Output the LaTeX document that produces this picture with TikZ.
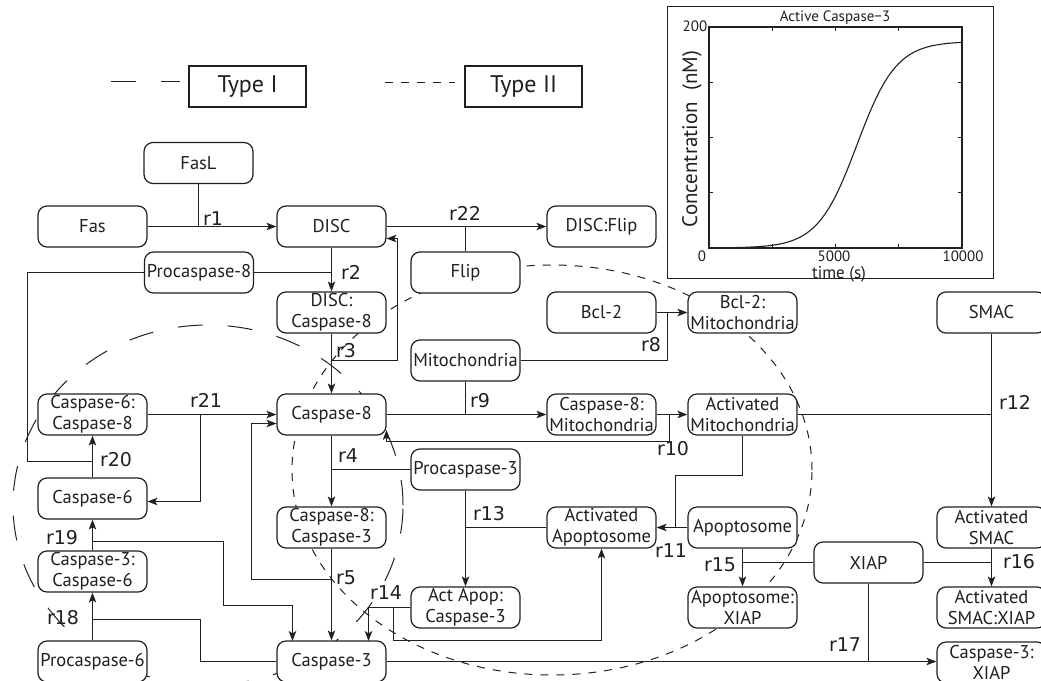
\documentclass[tikz,border=0pt]{standalone}
\usepackage{fontspec}
\setmainfont{PT Sans}
\newfontfamily\labfont{DejaVu Sans}
\usetikzlibrary{arrows.meta,calc}
\definecolor{ink}{RGB}{35,31,32}
\tikzset{
  box/.style={draw=ink, fill=white, line width=1.2pt, rounded corners=9pt,
    minimum width=109pt, minimum height=41pt, inner sep=0.5pt, align=center,
    text=ink, font=\fontsize{18.5}{21.5}\selectfont},
  conn/.style={draw=ink, line width=1.2pt},
  arr/.style={conn, -{Stealth[length=10pt,width=7.5pt,inset=2.5pt]}},
  rlab/.style={text=ink, inner sep=0pt, font=\labfont\fontsize{19}{22}\selectfont},
  legbox/.style={draw=ink, line width=1.3pt, minimum width=117pt, minimum height=41pt,
    inner sep=1pt, text=ink, font=\fontsize{24}{28}\selectfont},
  typeone/.style={draw=ink, line width=1pt, dash pattern=on 25pt off 25pt},
  typetwo/.style={draw=ink, line width=1pt, dash pattern=on 8pt off 8pt},
  plotfont/.style={text=ink, inner sep=0pt, font=\fontsize{15}{17}\selectfont}
}
\begin{document}
\begin{tikzpicture}[x=1pt,y=-1pt]
\useasboundingbox (0,0) rectangle (1041,680);
\clip (0,0) rectangle (1041,680);
\fill[white] (0,0) rectangle (1041,680);

% legend
\node[legbox] (leg1) at (247.5,86.5) {Type I};
\node[legbox] (leg2) at (523.5,86.5) {Type II};
\coordinate (l1a) at (111,81.5);
\coordinate (l1b) at (180,81.5);
\coordinate (l2a) at (385,82.5);
\coordinate (l2b) at (455,82.5);
\draw[typeone] (l1a) -- (l1b);
\draw[typetwo] (l2a) -- (l2b);

% pathway boundaries (behind the species boxes)
\draw[typeone] (208,505) ellipse [x radius=195pt, y radius=180pt];
\draw[typetwo] (552,470) ellipse [x radius=260pt, y radius=205pt];

% species
\node[box] (fasl) at (198.5,163) {FasL};
\node[box] (fas) at (92.5,226.5) {Fas};
\node[box] (disc) at (331.5,226.5) {DISC};
\node[box] (discflip) at (601.5,226.5) {DISC:Flip};
\node[box] (flip) at (465.5,272.5) {Flip};
\node[box] (pc8) at (199,272.5) {Procaspase-8};
\node[box] (disc8) at (331.5,312.5) {DISC:\\Caspase-8};
\node[box] (bcl2) at (601.5,312.5) {Bcl-2};
\node[box] (bclmit) at (742.5,312.5) {Bcl-2:\\Mitochondria};
\node[box] (smac) at (991.5,312.5) {SMAC};
\node[box] (mito) at (465.5,360.5) {Mitochondria};
\node[box] (c6c8) at (92.5,414.5) {Caspase-6:\\Caspase-8};
\node[box] (c8) at (331.5,414.5) {Caspase-8};
\node[box] (c8mit) at (601.5,414.5) {Caspase-8:\\Mitochondria};
\node[box] (amit) at (742.5,414.5) {Activated\\Mitochondria};
\node[box] (pc3) at (465.5,469.5) {Procaspase-3};
\node[box] (c6) at (92.5,498.5) {Caspase-6};
\node[box] (c8c3) at (331.5,527.5) {Caspase-8:\\Caspase-3};
\node[box] (aapo) at (601.5,527.5) {Activated\\Apoptosome};
\node[box] (apo) at (742.5,527.5) {Apoptosome};
\node[box] (asmac) at (991.5,527.5) {Activated\\SMAC};
\node[box] (xiap) at (868.5,562.5) {XIAP};
\node[box] (c3c6) at (92.5,571.5) {Caspase-3:\\Caspase-6};
\node[box] (apc3) at (465.5,607.5) {Act Apop:\\Caspase-3};
\node[box] (apoxiap) at (742.5,607.5) {Apoptosome:\\XIAP};
\node[box] (asmacxiap) at (991.5,607.5) {Activated\\SMAC:XIAP};
\node[box] (pc6) at (92.5,661.5) {Procaspase-6};
\node[box] (c3) at (331.5,661.5) {Caspase-3};
\node[box] (c3xiap) at (991.5,662.5) {Caspase-3:\\XIAP};

% r1
\draw[conn] (fasl.south) -- (fasl.south |- fas.east);
\draw[arr] (fas.east) -- (disc.west);
% r22
\draw[arr] (disc.east) -- (discflip.west);
\draw[conn] (flip.north) -- (flip.north |- disc.east);
% r2
\draw[arr] (disc.south) -- (disc8.north);
\draw[conn] (pc8.east) -- (pc8.east -| disc.south);
\draw[conn] (pc8.west) -| (27.5,461.5) -- (92.5,461.5);
% r20
\draw[arr] (c6.north) -- (c6c8.south);
% r3
\draw[arr] (disc8.south) -- (c8.north);
\draw[arr] (331.5,360.5) -- (397.5,360.5) -- (397.5,238.5) -- (386.5,238.5);
% r21
\draw[arr] (c6c8.east) -- (c8.west);
\draw[arr] (200.5,414.5) |- (147.5,501.5);
% r5
\draw[arr] (c8c3.south) -- (c3.north);
\draw[arr] (331.5,579.5) -| (251.5,423.5) -- (276.5,423.5);
% r4
\draw[arr] (c8.south) -- (c8c3.north);
\draw[conn] (pc3.west) -- (pc3.west -| c8.south);
% r9
\draw[arr] (c8.east) -- (c8mit.west);
\draw[conn] (mito.south) -- (mito.south |- c8.east);
% r10
\draw[arr] (c8mit.east) -- (amit.west);
\draw[arr] (669.5,414.5) -- (669.5,441.5) -- (386.5,441.5) -- (386.5,430);
% r8
\draw[arr] (bcl2.east) -- (bclmit.west);
\draw[conn] (mito.east) -| (667.5,312.5);
% r11
\draw[arr] (apo.west) -- (aapo.east);
\draw[conn] (amit.south) |- (675.5,475.5) -- (675.5,527.5);
% r13
\draw[arr] (pc3.south) -- (apc3.north);
\draw[conn] (aapo.west) -- (aapo.west -| pc3.south);
% r14
\draw[arr] (apc3.west) -| (368.5,641);
\draw[arr] (393.5,607.5) |- (601.5,640.5) -- (aapo.south);
% r18
\draw[arr] (pc6.north) -- (c3c6.south);
\draw[conn] (c3.west) -| (200.5,619.5) -- (92.5,619.5);
% r19
\draw[arr] (c3c6.north) -- (c6.south);
\draw[arr] (92.5,541.5) -| (223.5,605.5) -| (292.5,641);
% r15
\draw[arr] (apo.south) -- (apoxiap.north);
\draw[conn] (xiap.west) -- (xiap.west -| apo.south);
% r16
\draw[arr] (asmac.south) -- (asmacxiap.north);
\draw[conn] (xiap.east) -- (xiap.east -| asmac.south);
% r17
\draw[arr] (c3.east) -- (c3.east -| c3xiap.west);
\draw[conn] (xiap.south) -- (xiap.south |- c3.east);
% r12
\draw[arr] (smac.south) -- (asmac.north);
\draw[conn] (amit.east) -- (amit.east -| smac.south);

% reaction labels
\node[rlab] (lr1) at (213,218.5) {r1};
\node[rlab] (lr22) at (465,213) {r22};
\node[rlab] (lr2) at (351,272) {r2};
\node[rlab] (lr3) at (346,351) {r3};
\node[rlab] (lr20) at (116,460) {r20};
\node[rlab] (lr21) at (206,400) {r21};
\node[rlab] (lr4) at (348,456) {r4};
\node[rlab] (lr5) at (346,578) {r5};
\node[rlab] (lr9) at (480,401) {r9};
\node[rlab] (lr10) at (673,449) {r10};
\node[rlab] (lr8) at (651,345) {r8};
\node[rlab] (lr11) at (671,551) {r11};
\node[rlab] (lr13) at (489,514) {r13};
\node[rlab] (lr14) at (386,593) {r14};
\node[rlab] (lr18) at (63,618) {r18};
\node[rlab] (lr19) at (62,538) {r19};
\node[rlab] (lr15) at (720,565) {r15};
\node[rlab] (lr16) at (1019,562) {r16};
\node[rlab] (lr17) at (845,645) {r17};
\node[rlab] (lr12) at (1015,402) {r12};

% inset: active caspase-3 time course
\draw[ink, line width=1pt] (667.5,6.5) rectangle (993.5,278.5);
\draw[ink, line width=2.2pt] (709,27) rectangle (962,248);
\foreach \tx in {772.5,835.5,898.5} {
  \draw[ink, line width=1pt] (\tx,248) -- (\tx,244);
  \draw[ink, line width=1pt] (\tx,27) -- (\tx,31);
}
\foreach \ty in {82.5,137.5,192.5} {
  \draw[ink, line width=1pt] (709,\ty) -- (713,\ty);
  \draw[ink, line width=1pt] (962,\ty) -- (958,\ty);
}
\draw[ink, line width=1.1pt] plot[domain=0:10, samples=120, smooth]
  ({709+25.3*\x}, {248-1.105*187/(1+exp(-(\x-5.85)/0.778))});
\node[plotfont] (ptitle) at (835,18) {Active Caspase−3};
\node[plotfont] (py200) at (695,26) {200};
\node[plotfont] (py0) at (702,256) {0};
\node[plotfont] (px5) at (834,256) {5000};
\node[plotfont] (px10) at (963,256) {10000};
\node[plotfont, font=\fontsize{17}{19}\selectfont] (pxlab) at (839,274.5) {time (s)};
\node[plotfont, rotate=90, font=\fontsize{21}{23}\selectfont] (pylab) at (692,139) {Concentration\ \ (nM)};
\end{tikzpicture}
\end{document}
